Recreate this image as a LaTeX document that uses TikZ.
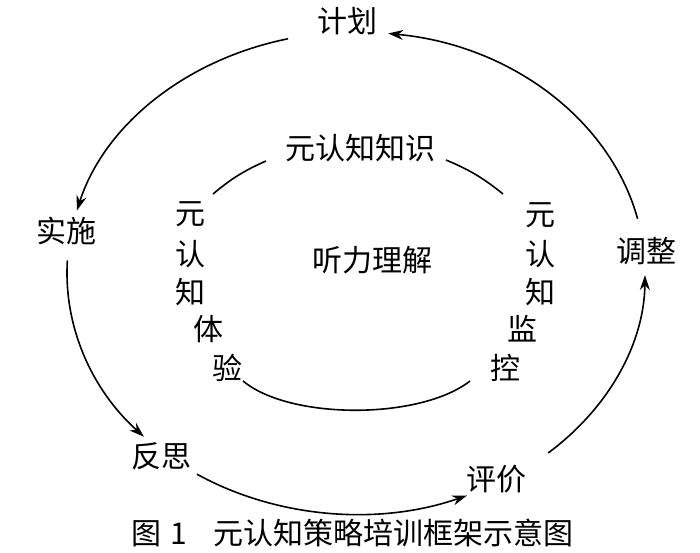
\documentclass[tikz,border=0pt]{standalone}
\usepackage{fontspec}
\newfontfamily\cjk{Noto Sans CJK SC}
\usetikzlibrary{arrows.meta,calc}
\begin{document}
\begin{tikzpicture}[x=1pt,y=1pt,
  lbl/.style={inner sep=0pt,font=\cjk\fontsize{30}{30}\selectfont},
  captext/.style={inner sep=0pt,anchor=west,font=\cjk\fontsize{30}{30}\selectfont},
  arr/.style={line width=1.6pt,-{Stealth[length=15pt,width=10pt]}},
  ln/.style={line width=1.6pt}]
\useasboundingbox[fill=white] (0,0) rectangle (700,552);
% outer ellipse centre
\coordinate (O) at (356,279);
% labels
\node[lbl] (jihua) at (347,531) {计划};
\node[lbl] (shishi) at (66,321) {实施};
\node[lbl] (fansi) at (161,96) {反思};
\node[lbl] (pingjia) at (496,73) {评价};
\node[lbl] (tiaozheng) at (646,301) {调整};
\node[lbl] (zhishi) at (360,404) {元认知知识};
\node[lbl] (tingli) at (372,292) {听力理解};
% left column
\node[lbl] (l1) at (190,338) {元};
\node[lbl] (l2) at (190,298) {认};
\node[lbl] (l3) at (190,260) {知};
\node[lbl] (l4) at (208,223) {体};
\node[lbl] (l5) at (227,184) {验};
% right column
\node[lbl] (r1) at (540,337) {元};
\node[lbl] (r2) at (540,298) {认};
\node[lbl] (r3) at (540,260) {知};
\node[lbl] (r4) at (522,223) {监};
\node[lbl] (r5) at (505,184) {控};
% caption
\node[captext] (caption) at (131,19) {图\hspace{0.3em}1\hspace{0.9em}元认知策略培训框架示意图};
% outer arrows (ellipse arcs)
\coordinate (a1) at ($(O)+(103.6:289pt and 241pt)$);
\coordinate (a2) at ($(O)+(177:289pt and 241pt)$);
\coordinate (a3) at ($(O)+(236.6:289pt and 241pt)$);
\coordinate (a4) at ($(O)+(311.7:289pt and 241pt)$);
\coordinate (a5) at ($(O)+(13:289pt and 241pt)$);
\draw[arr] (a1) arc[start angle=103.6,end angle=165,x radius=289pt,y radius=241pt];
\draw[arr] (a2) arc[start angle=177,end angle=222.8,x radius=289pt,y radius=241pt];
\draw[arr] (a3) arc[start angle=236.6,end angle=292.6,x radius=289pt,y radius=241pt];
\draw[arr] (a4) arc[start angle=311.7,end angle=359.5,x radius=289pt,y radius=241pt];
\draw[arr] (a5) arc[start angle=13,end angle=83.6,x radius=289pt,y radius=241pt];
% inner arcs
\coordinate (i1) at (266,391);
\coordinate (i2) at (213,358);
\coordinate (i3) at (446,392);
\coordinate (i4) at (503,358);
\coordinate (i5) at (243,171);
\coordinate (i6) at (470,171);
\draw[ln] (i1) to[bend right=8] (i2);
\draw[ln] (i3) to[bend left=8] (i4);
\draw[ln] (i5) .. controls (290,132) and (420,132) .. (i6);
\end{tikzpicture}
\end{document}
